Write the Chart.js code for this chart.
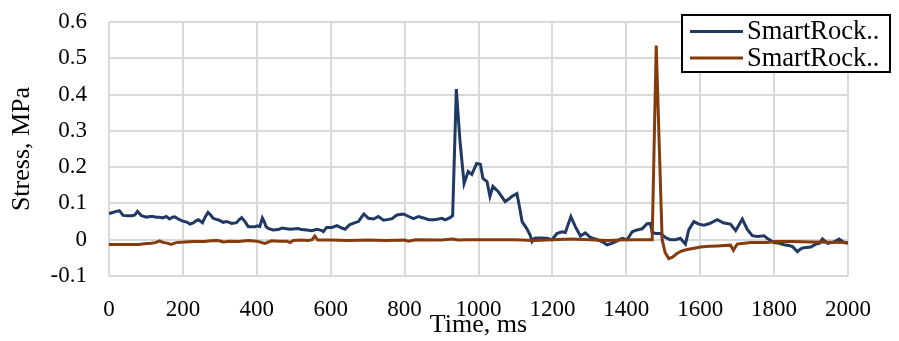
<!DOCTYPE html>
<html>
<head>
<meta charset="utf-8">
<script src="https://cdn.jsdelivr.net/npm/chart.js@4.4.1/dist/chart.umd.min.js"></script>
<style>
  html, body { margin: 0; padding: 0; background: #fff; }
  #wrap { width: 899px; height: 341px; position: relative; }
</style>
</head>
<body>
<div id="wrap"><canvas id="grafico"></canvas></div>
<script>
// first sensor (blue)
const tiempos1 = [0, 10, 20, 28, 38, 50, 62, 70, 77, 88, 101, 110, 119, 128, 137, 146, 155, 164, 172, 178,
  191, 198, 205, 212, 219, 228, 235, 242, 253, 260, 268, 275, 282, 290, 295, 302, 309, 318, 325, 332,
  345, 352, 359, 368, 377, 386, 395, 402, 408, 415, 420, 425, 431, 444, 458, 468, 476, 490, 503, 512,
  521, 535, 549, 562, 570, 576, 580, 589, 603, 617, 630, 639, 652, 666, 675, 682, 690, 702, 716, 729,
  743, 757, 766, 779, 797, 811, 824, 838, 851, 865, 879, 892, 901, 910, 923, 930, 940, 950, 961, 972,
  982, 995, 1005, 1012, 1023, 1031, 1039, 1053, 1062, 1072, 1082, 1090, 1104, 1111, 1118, 1131, 1140, 1145, 1152, 1165,
  1185, 1199, 1212, 1226, 1235, 1250, 1262, 1276, 1289, 1303, 1321, 1334, 1348, 1361, 1375, 1389, 1402, 1416, 1429, 1443,
  1456, 1465, 1470, 1479, 1492, 1506, 1519, 1533, 1546, 1560, 1569, 1583, 1596, 1610, 1624, 1646, 1664, 1682, 1696, 1714,
  1727, 1741, 1755, 1773, 1782, 1800, 1814, 1827, 1840, 1850, 1863, 1872, 1881, 1899, 1913, 1922, 1931, 1945, 1963, 1976,
  1990, 2000];
const esfuerzo1 = [0.072, 0.075, 0.078, 0.080, 0.067, 0.066, 0.066, 0.068, 0.078, 0.066, 0.062, 0.064, 0.064, 0.062, 0.062, 0.060, 0.064, 0.057, 0.062, 0.063,
  0.055, 0.052, 0.050, 0.048, 0.043, 0.046, 0.052, 0.055, 0.047, 0.062, 0.075, 0.068, 0.059, 0.056, 0.055, 0.052, 0.048, 0.050, 0.048, 0.045,
  0.047, 0.055, 0.061, 0.050, 0.036, 0.036, 0.036, 0.038, 0.036, 0.060, 0.050, 0.036, 0.031, 0.027, 0.028, 0.032, 0.031, 0.029, 0.030, 0.031,
  0.028, 0.027, 0.025, 0.029, 0.027, 0.025, 0.022, 0.034, 0.034, 0.039, 0.032, 0.029, 0.042, 0.047, 0.050, 0.060, 0.071, 0.059, 0.057, 0.064,
  0.054, 0.056, 0.058, 0.068, 0.071, 0.064, 0.058, 0.064, 0.060, 0.055, 0.055, 0.057, 0.059, 0.055, 0.061, 0.066, 0.415, 0.270, 0.155, 0.188,
  0.180, 0.210, 0.208, 0.169, 0.160, 0.119, 0.147, 0.133, 0.120, 0.105, 0.112, 0.119, 0.127, 0.090, 0.050, 0.030, 0.012, -0.005, 0.004, 0.005,
  0.004, 0.000, 0.017, 0.022, 0.020, 0.064, 0.036, 0.010, 0.019, 0.006, 0.000, -0.005, -0.014, -0.010, -0.003, 0.004, 0.000, 0.022, 0.027, 0.030,
  0.044, 0.045, 0.020, 0.017, 0.017, 0.006, 0.000, 0.000, 0.004, -0.012, 0.027, 0.050, 0.043, 0.040, 0.044, 0.055, 0.046, 0.043, 0.025, 0.057,
  0.029, 0.011, 0.009, 0.011, 0.003, -0.008, -0.010, -0.014, -0.016, -0.019, -0.033, -0.025, -0.022, -0.020, -0.012, -0.010, 0.002, -0.010, -0.006, 0.002,
  -0.008, -0.010];

// second sensor (orange)
const tiempos2 = [0, 40, 80, 96, 114, 125, 137, 145, 150, 160, 168, 182, 205, 230, 259, 275, 295, 310, 327, 350,
  377, 400, 422, 440, 460, 481, 490, 499, 520, 540, 550, 557, 565, 600, 650, 700, 750, 800, 810, 830,
  900, 930, 945, 970, 1000, 1050, 1100, 1150, 1200, 1250, 1300, 1350, 1400, 1450, 1470, 1481, 1497, 1505, 1515, 1525,
  1537, 1550, 1565, 1580, 1601, 1625, 1646, 1682, 1690, 1700, 1737, 1782, 1800, 1850, 1900, 1950, 2000];
const esfuerzo2 = [-0.013, -0.013, -0.013, -0.011, -0.010, -0.008, -0.003, -0.007, -0.008, -0.010, -0.013, -0.008, -0.006, -0.005, -0.005, -0.003, -0.002, -0.006, -0.004, -0.005,
  -0.002, -0.004, -0.010, -0.003, -0.004, -0.004, -0.008, -0.002, -0.001, -0.002, 0.000, 0.010, -0.001, -0.001, -0.002, -0.001, -0.002, -0.001, -0.004, 0.000,
  -0.001, 0.002, -0.001, 0.000, 0.000, 0.000, 0.000, -0.002, 0.000, 0.002, 0.000, -0.002, 0.000, 0.000, 0.000, 0.535, 0.000, -0.035, -0.052, -0.048,
  -0.038, -0.031, -0.027, -0.024, -0.020, -0.018, -0.017, -0.015, -0.029, -0.012, -0.008, -0.008, -0.005, -0.005, -0.006, -0.007, -0.008];

const etiquetas = ['SmartRock..', 'SmartRock..'];
const colores = ['#1f3864', '#843c0c'];

function pares(xs, ys) {
  var out = [];
  for (let i = 0; i < xs.length; i++) {
    out.push({ x: xs[i], y: ys[i] });
  }
  return out;
}

const fuente = 'Liberation Serif';

// legend box drawn over the plot, like the original
const leyenda = {
  id: 'leyenda',
  afterDraw(chart) {
    const ctx = chart.ctx;
    ctx.save();
    ctx.fillStyle = '#fff';
    ctx.fillRect(682, 15, 208, 57);
    ctx.strokeStyle = '#000';
    ctx.lineWidth = 2;
    ctx.strokeRect(682, 15, 208, 57);
    const filas = [31.5, 58];
    for (let i = 0; i < etiquetas.length; i++) {
      ctx.strokeStyle = colores[i];
      ctx.lineWidth = 3;
      ctx.beginPath();
      ctx.moveTo(690, filas[i]);
      ctx.lineTo(743, filas[i]);
      ctx.stroke();
      ctx.fillStyle = '#000';
      ctx.font = '26.5px "' + fuente + '"';
      ctx.textBaseline = 'middle';
      ctx.textAlign = 'left';
      ctx.fillText(etiquetas[i], 747, filas[i] + 1);
    }
    ctx.restore();
  }
};

const data = {
  datasets: [{
    label: etiquetas[0],
    data: pares(tiempos1, esfuerzo1),
    borderColor: colores[0],
    backgroundColor: colores[0],
    borderWidth: 3,
    pointRadius: 0,
    tension: 0,
    order: 1
  }, {
    label: etiquetas[1],
    data: pares(tiempos2, esfuerzo2),
    borderColor: colores[1],
    backgroundColor: colores[1],
    borderWidth: 3,
    pointRadius: 0,
    tension: 0,
    order: 0
  }]
};

const config = {
  type: 'line',
  data,
  plugins: [leyenda],
  options: {
    responsive: true,
    maintainAspectRatio: false,
    animation: false,
    layout: { padding: { top: 22, right: 51, left: 0, bottom: 0 } },
    plugins: {
      legend: { display: false },
      tooltip: { enabled: false }
    },
    scales: {
      x: {
        type: 'linear',
        min: 0,
        max: 2000,
        afterFit: function (s) {
          s.height = 65;
          s.paddingLeft = 0;
          s.paddingRight = 0;
        },
        grid: { color: '#d9d9d9', lineWidth: 2, drawTicks: false },
        border: { display: false },
        ticks: {
          stepSize: 200,
          padding: 20,
          color: '#000',
          maxRotation: 0,
          font: { family: fuente, size: 23 },
          callback: function (v) { return String(v); }
        },
        title: {
          display: true,
          text: 'Time, ms',
          color: '#000',
          padding: 0,
          font: { family: fuente, size: 26 }
        }
      },
      y: {
        min: -0.1,
        max: 0.6,
        afterFit: function (s) {
          s.width = 109;
          s.paddingTop = 0;
          s.paddingBottom = 0;
        },
        grid: { color: '#d9d9d9', lineWidth: 2, drawTicks: false },
        border: { display: false },
        ticks: {
          stepSize: 0.1,
          padding: 22,
          color: '#000',
          font: { family: fuente, size: 23 },
          callback: function (v) { return String(+v.toFixed(1)); }
        },
        title: {
          display: true,
          text: 'Stress, MPa',
          color: '#000',
          padding: { top: 7, bottom: 0 },
          font: { family: fuente, size: 26 }
        }
      }
    }
  }
};

const myChart = new Chart(document.getElementById('grafico'), config);
</script>
</body>
</html>
